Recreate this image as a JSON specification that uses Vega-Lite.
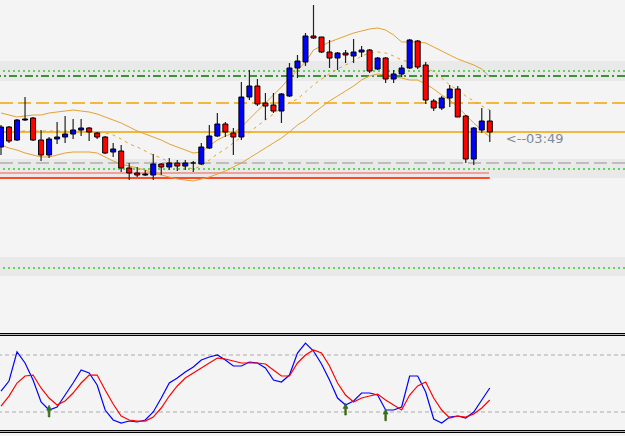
{
  "$schema": "https://vega.github.io/schema/vega-lite/v6.json",
  "background": "#f4f4f4",
  "padding": 0,
  "spacing": 0,
  "config": {"view": {"stroke": null}, "scale": {"continuousPadding": 0}},
  "datasets": {
    "bars": [
      {"i":0,"o":1.1184,"h":1.1206,"l":1.1176,"c":1.1204,"t":"up","bu":1.1218,"bm":1.1201,"bl":1.1186,"k":42.1,"d":26.3},
      {"i":1,"o":1.1204,"h":1.1205,"l":1.1188,"c":1.1190,"t":"down","bu":1.1216,"bm":1.1201,"bl":1.1183,"k":52.6,"d":36.8},
      {"i":2,"o":1.1191,"h":1.1212,"l":1.1190,"c":1.1211,"t":"up","bu":1.1214,"bm":1.1200,"bl":1.1181,"k":83.2,"d":50.5},
      {"i":3,"o":1.1212,"h":1.1234,"l":1.1210,"c":1.1211,"t":"doji","bu":1.1215,"bm":1.1200,"bl":1.1178,"k":71.6,"d":57.9},
      {"i":4,"o":1.1213,"h":1.1214,"l":1.1190,"c":1.1191,"t":"down","bu":1.1216,"bm":1.1200,"bl":1.1176,"k":53.7,"d":58.9},
      {"i":5,"o":1.1191,"h":1.1201,"l":1.1170,"c":1.1176,"t":"down","bu":1.1216,"bm":1.1200,"bl":1.1174,"k":30.5,"d":45.3},
      {"i":6,"o":1.1176,"h":1.1194,"l":1.1173,"c":1.1192,"t":"up","bu":1.1218,"bm":1.1200,"bl":1.1174,"k":22.1,"d":34.7},
      {"i":7,"o":1.1192,"h":1.1209,"l":1.1187,"c":1.1194,"t":"up","bu":1.1219,"bm":1.1200,"bl":1.1176,"k":25.3,"d":27.4},
      {"i":8,"o":1.1194,"h":1.1215,"l":1.1188,"c":1.1197,"t":"up","bu":1.1220,"bm":1.1200,"bl":1.1178,"k":37.9,"d":31.6},
      {"i":9,"o":1.1197,"h":1.1212,"l":1.1192,"c":1.1201,"t":"up","bu":1.1221,"bm":1.1200,"bl":1.1179,"k":50.5,"d":40},
      {"i":10,"o":1.1201,"h":1.1212,"l":1.1195,"c":1.1203,"t":"up","bu":1.1220,"bm":1.1200,"bl":1.1179,"k":64.2,"d":50.5},
      {"i":11,"o":1.1203,"h":1.1204,"l":1.1190,"c":1.1199,"t":"down","bu":1.1219,"bm":1.1199,"bl":1.1179,"k":61.1,"d":58.9},
      {"i":12,"o":1.1198,"h":1.1199,"l":1.1192,"c":1.1194,"t":"down","bu":1.1217,"bm":1.1199,"bl":1.1178,"k":48.4,"d":58.9},
      {"i":13,"o":1.1194,"h":1.1195,"l":1.1177,"c":1.1178,"t":"down","bu":1.1214,"bm":1.1198,"bl":1.1174,"k":22.1,"d":43.2},
      {"i":14,"o":1.1179,"h":1.1188,"l":1.1174,"c":1.1182,"t":"up","bu":1.1211,"bm":1.1196,"bl":1.1170,"k":11.6,"d":28.4},
      {"i":15,"o":1.1180,"h":1.1186,"l":1.1159,"c":1.1163,"t":"down","bu":1.1208,"bm":1.1192,"bl":1.1167,"k":8.4,"d":15.8},
      {"i":16,"o":1.1163,"h":1.1168,"l":1.1151,"c":1.1158,"t":"down","bu":1.1204,"bm":1.1187,"bl":1.1165,"k":10.5,"d":11.6},
      {"i":17,"o":1.1158,"h":1.1164,"l":1.1154,"c":1.1156,"t":"down","bu":1.1200,"bm":1.1184,"bl":1.1163,"k":9.5,"d":10.5},
      {"i":18,"o":1.1156,"h":1.1161,"l":1.1155,"c":1.1157,"t":"doji","bu":1.1197,"bm":1.1180,"bl":1.1161,"k":11.6,"d":10.5},
      {"i":19,"o":1.1156,"h":1.1177,"l":1.1151,"c":1.1167,"t":"up","bu":1.1194,"bm":1.1176,"bl":1.1158,"k":20,"d":14.7},
      {"i":20,"o":1.1167,"h":1.1168,"l":1.1156,"c":1.1164,"t":"down","bu":1.1191,"bm":1.1173,"bl":1.1156,"k":34.7,"d":24.2},
      {"i":21,"o":1.1164,"h":1.1173,"l":1.1161,"c":1.1168,"t":"up","bu":1.1187,"bm":1.1169,"bl":1.1154,"k":50.5,"d":36.8},
      {"i":22,"o":1.1168,"h":1.1171,"l":1.1160,"c":1.1165,"t":"down","bu":1.1184,"bm":1.1166,"bl":1.1152,"k":55.8,"d":47.4},
      {"i":23,"o":1.1165,"h":1.1171,"l":1.1161,"c":1.1168,"t":"up","bu":1.1181,"bm":1.1164,"bl":1.1151,"k":62.1,"d":55.8},
      {"i":24,"o":1.1168,"h":1.1170,"l":1.1159,"c":1.1168,"t":"doji","bu":1.1178,"bm":1.1162,"bl":1.1150,"k":67.4,"d":61.1},
      {"i":25,"o":1.1167,"h":1.1188,"l":1.1166,"c":1.1184,"t":"up","bu":1.1179,"bm":1.1165,"bl":1.1152,"k":74.7,"d":66.3},
      {"i":26,"o":1.1183,"h":1.1206,"l":1.1182,"c":1.1195,"t":"up","bu":1.1185,"bm":1.1171,"bl":1.1154,"k":77.9,"d":71.6},
      {"i":27,"o":1.1195,"h":1.1218,"l":1.1194,"c":1.1207,"t":"up","bu":1.1191,"bm":1.1177,"bl":1.1157,"k":80,"d":76.8},
      {"i":28,"o":1.1207,"h":1.1209,"l":1.1194,"c":1.1199,"t":"down","bu":1.1195,"bm":1.1182,"bl":1.1160,"k":74.7,"d":75.8},
      {"i":29,"o":1.1198,"h":1.1203,"l":1.1176,"c":1.1194,"t":"down","bu":1.1198,"bm":1.1188,"bl":1.1164,"k":68.4,"d":73.7},
      {"i":30,"o":1.1194,"h":1.1249,"l":1.1191,"c":1.1234,"t":"up","bu":1.1204,"bm":1.1194,"bl":1.1168,"k":68.4,"d":71.6},
      {"i":31,"o":1.1234,"h":1.1261,"l":1.1231,"c":1.1245,"t":"up","bu":1.1212,"bm":1.1199,"bl":1.1173,"k":72.6,"d":71.6},
      {"i":32,"o":1.1245,"h":1.1252,"l":1.1225,"c":1.1227,"t":"down","bu":1.1220,"bm":1.1205,"bl":1.1178,"k":71.6,"d":71.6},
      {"i":33,"o":1.1228,"h":1.1238,"l":1.1211,"c":1.1225,"t":"down","bu":1.1228,"bm":1.1211,"bl":1.1183,"k":66.3,"d":70.5},
      {"i":34,"o":1.1226,"h":1.1238,"l":1.1218,"c":1.1220,"t":"down","bu":1.1236,"bm":1.1217,"bl":1.1188,"k":53.7,"d":64.2},
      {"i":35,"o":1.1220,"h":1.1238,"l":1.1208,"c":1.1237,"t":"up","bu":1.1244,"bm":1.1223,"bl":1.1193,"k":51.6,"d":57.9},
      {"i":36,"o":1.1235,"h":1.1268,"l":1.1234,"c":1.1263,"t":"up","bu":1.1253,"bm":1.1228,"bl":1.1199,"k":58.9,"d":57.9},
      {"i":37,"o":1.1263,"h":1.1276,"l":1.1253,"c":1.1270,"t":"up","bu":1.1261,"bm":1.1232,"bl":1.1206,"k":82.1,"d":71.6},
      {"i":38,"o":1.1269,"h":1.1298,"l":1.1265,"c":1.1295,"t":"up","bu":1.1269,"bm":1.1239,"bl":1.1211,"k":92.6,"d":80},
      {"i":39,"o":1.1295,"h":1.1326,"l":1.1292,"c":1.1293,"t":"down","bu":1.1281,"bm":1.1246,"bl":1.1218,"k":84.2,"d":85.3},
      {"i":40,"o":1.1294,"h":1.1294,"l":1.1278,"c":1.1279,"t":"down","bu":1.1285,"bm":1.1252,"bl":1.1224,"k":70.5,"d":82.1},
      {"i":41,"o":1.1279,"h":1.1291,"l":1.1263,"c":1.1273,"t":"down","bu":1.1289,"bm":1.1257,"bl":1.1230,"k":53.7,"d":68.4},
      {"i":42,"o":1.1273,"h":1.1279,"l":1.1261,"c":1.1278,"t":"up","bu":1.1292,"bm":1.1262,"bl":1.1235,"k":34.7,"d":50.5},
      {"i":43,"o":1.1278,"h":1.1281,"l":1.1268,"c":1.1276,"t":"down","bu":1.1295,"bm":1.1266,"bl":1.1240,"k":27.4,"d":37.9},
      {"i":44,"o":1.1275,"h":1.1292,"l":1.1268,"c":1.1279,"t":"up","bu":1.1298,"bm":1.1270,"bl":1.1245,"k":31.6,"d":30.5},
      {"i":45,"o":1.1279,"h":1.1285,"l":1.1274,"c":1.1281,"t":"up","bu":1.1300,"bm":1.1275,"bl":1.1251,"k":40,"d":34.7},
      {"i":46,"o":1.1281,"h":1.1282,"l":1.1258,"c":1.1260,"t":"down","bu":1.1302,"bm":1.1278,"bl":1.1255,"k":40,"d":36.8},
      {"i":47,"o":1.1262,"h":1.1274,"l":1.1261,"c":1.1273,"t":"up","bu":1.1303,"bm":1.1279,"bl":1.1257,"k":37.9,"d":38.9},
      {"i":48,"o":1.1273,"h":1.1274,"l":1.1248,"c":1.1252,"t":"down","bu":1.1301,"bm":1.1278,"bl":1.1256,"k":22.1,"d":32.6},
      {"i":49,"o":1.1252,"h":1.1261,"l":1.1248,"c":1.1257,"t":"up","bu":1.1296,"bm":1.1275,"bl":1.1254,"k":22.1,"d":27.4},
      {"i":50,"o":1.1257,"h":1.1266,"l":1.1254,"c":1.1263,"t":"up","bu":1.1289,"bm":1.1271,"bl":1.1253,"k":25.3,"d":22.1},
      {"i":51,"o":1.1263,"h":1.1292,"l":1.1262,"c":1.1291,"t":"up","bu":1.1289,"bm":1.1269,"bl":1.1251,"k":57.9,"d":37.9},
      {"i":52,"o":1.1290,"h":1.1291,"l":1.1262,"c":1.1264,"t":"down","bu":1.1289,"bm":1.1267,"bl":1.1251,"k":57.9,"d":47.4},
      {"i":53,"o":1.1266,"h":1.1269,"l":1.1227,"c":1.1231,"t":"down","bu":1.1288,"bm":1.1264,"bl":1.1247,"k":41.1,"d":51.6},
      {"i":54,"o":1.1230,"h":1.1232,"l":1.1220,"c":1.1223,"t":"down","bu":1.1284,"bm":1.1259,"bl":1.1242,"k":12.6,"d":34.7},
      {"i":55,"o":1.1223,"h":1.1235,"l":1.1221,"c":1.1233,"t":"up","bu":1.1280,"bm":1.1253,"bl":1.1236,"k":8.4,"d":22.1},
      {"i":56,"o":1.1233,"h":1.1246,"l":1.1224,"c":1.1242,"t":"up","bu":1.1276,"bm":1.1246,"bl":1.1231,"k":14.7,"d":13.7},
      {"i":57,"o":1.1242,"h":1.1245,"l":1.1214,"c":1.1214,"t":"down","bu":1.1272,"bm":1.1241,"bl":1.1224,"k":15.8,"d":15.8},
      {"i":58,"o":1.1215,"h":1.1216,"l":1.1168,"c":1.1172,"t":"down","bu":1.1269,"bm":1.1235,"bl":1.1216,"k":13.7,"d":14.7},
      {"i":59,"o":1.1172,"h":1.1204,"l":1.1166,"c":1.1203,"t":"up","bu":1.1266,"bm":1.1230,"bl":1.1208,"k":20,"d":17.9},
      {"i":60,"o":1.1201,"h":1.1223,"l":1.1198,"c":1.1210,"t":"up","bu":1.1262,"bm":1.1225,"bl":1.1201,"k":32.6,"d":24.2},
      {"i":61,"o":1.1210,"h":1.1221,"l":1.1189,"c":1.1199,"t":"down","bu":1.1254,"bm":1.1221,"bl":1.1194,"k":45.3,"d":32.6}
    ],
    "zones": [
      {"p1":1.1270,"p2":1.1250},
      {"p1":1.1172,"p2":1.1153},
      {"p1":1.1074,"p2":1.1055}
    ],
    "levels": [
      {"p":1.1260,"kind":"gdot"},
      {"p":1.1162,"kind":"gdot"},
      {"p":1.1063,"kind":"gdot"},
      {"p":1.1255,"kind":"dashdot"},
      {"p":1.1228,"kind":"odash"},
      {"p":1.1199,"kind":"osolid"},
      {"p":1.1168,"kind":"gray"},
      {"p":1.1158,"kind":"salmon"},
      {"p":1.1153,"kind":"red"}
    ],
    "stlevels": [{"v":80},{"v":20}],
    "borders": [{"v":102.6},{"v":100.5},{"v":0.5},{"v":-1.6}],
    "arrows": [{"i":6,"v":21},{"i":43,"v":23},{"i":48,"v":17}],
    "label": [{"i":63,"p":1.1192,"txt":"<--03:49"}]
  },
  "vconcat": [
    {
      "width": 625,
      "height": 331,
      "layer": [
        {
          "data": {"name": "zones"},
          "mark": {"type": "rect", "color": "#e9e9e9", "clip": true},
          "encoding": {
            "x": {"datum": -0.125, "type": "quantitative", "scale": {"domain": [-0.125, 77.875], "nice": false, "zero": false, "padding": 0}, "axis": null},
            "x2": {"datum": 77.875},
            "y": {"field": "p1", "type": "quantitative", "scale": {"domain": [1.1000, 1.1331], "nice": false, "zero": false}, "axis": null},
            "y2": {"field": "p2"}
          }
        },
        {
          "data": {"name": "levels"},
          "transform": [{"filter": "datum.kind == 'gdot'"}],
          "mark": {"type": "rule", "color": "#5cd65c", "strokeWidth": 2, "strokeDash": [2, 3], "clip": true},
          "encoding": {
            "y": {"field": "p", "type": "quantitative", "scale": {"domain": [1.1000, 1.1331], "nice": false, "zero": false}, "axis": null}
          }
        },
        {
          "data": {"name": "levels"},
          "transform": [{"filter": "datum.kind == 'dashdot'"}],
          "mark": {"type": "rule", "color": "#007a00", "strokeWidth": 1.5, "strokeDash": [8, 3, 2, 3], "clip": true},
          "encoding": {
            "y": {"field": "p", "type": "quantitative", "scale": {"domain": [1.1000, 1.1331], "nice": false, "zero": false}, "axis": null}
          }
        },
        {
          "data": {"name": "levels"},
          "transform": [{"filter": "datum.kind == 'odash'"}],
          "mark": {"type": "rule", "color": "#f2a400", "strokeWidth": 1.5, "strokeDash": [13, 5], "clip": true},
          "encoding": {
            "y": {"field": "p", "type": "quantitative", "scale": {"domain": [1.1000, 1.1331], "nice": false, "zero": false}, "axis": null}
          }
        },
        {
          "data": {"name": "levels"},
          "transform": [{"filter": "datum.kind == 'osolid'"}],
          "mark": {"type": "rule", "color": "#f2a400", "strokeWidth": 1.5, "clip": true},
          "encoding": {
            "y": {"field": "p", "type": "quantitative", "scale": {"domain": [1.1000, 1.1331], "nice": false, "zero": false}, "axis": null}
          }
        },
        {
          "data": {"name": "levels"},
          "transform": [{"filter": "datum.kind == 'gray'"}],
          "mark": {"type": "rule", "color": "#bdbdbd", "strokeWidth": 2, "strokeDash": [13, 5], "clip": true},
          "encoding": {
            "y": {"field": "p", "type": "quantitative", "scale": {"domain": [1.1000, 1.1331], "nice": false, "zero": false}, "axis": null}
          }
        },
        {
          "data": {"name": "levels"},
          "transform": [{"filter": "datum.kind == 'salmon'"}],
          "mark": {"type": "rule", "color": "#f08a80", "strokeWidth": 1.5, "clip": true},
          "encoding": {
            "x": {"datum": -0.125, "type": "quantitative", "scale": {"domain": [-0.125, 77.875], "nice": false, "zero": false, "padding": 0}, "axis": null},
            "x2": {"datum": 60.9},
            "y": {"field": "p", "type": "quantitative", "scale": {"domain": [1.1000, 1.1331], "nice": false, "zero": false}, "axis": null}
          }
        },
        {
          "data": {"name": "levels"},
          "transform": [{"filter": "datum.kind == 'red'"}],
          "mark": {"type": "rule", "color": "#ff4a2a", "strokeWidth": 2, "clip": true},
          "encoding": {
            "x": {"datum": -0.125, "type": "quantitative", "scale": {"domain": [-0.125, 77.875], "nice": false, "zero": false, "padding": 0}, "axis": null},
            "x2": {"datum": 61},
            "y": {"field": "p", "type": "quantitative", "scale": {"domain": [1.1000, 1.1331], "nice": false, "zero": false}, "axis": null}
          }
        },
        {
          "data": {"name": "bars"},
          "mark": {"type": "line", "color": "#e3a232", "strokeWidth": 1, "clip": true},
          "encoding": {
            "x": {"field": "i", "type": "quantitative", "scale": {"domain": [-0.125, 77.875], "nice": false, "zero": false, "padding": 0}, "axis": null},
            "y": {"field": "bu", "type": "quantitative", "scale": {"domain": [1.1000, 1.1331], "nice": false, "zero": false}, "axis": null}
          }
        },
        {
          "data": {"name": "bars"},
          "mark": {"type": "line", "color": "#e3a232", "strokeWidth": 1, "strokeDash": [3, 4], "clip": true},
          "encoding": {
            "x": {"field": "i", "type": "quantitative", "scale": {"domain": [-0.125, 77.875], "nice": false, "zero": false, "padding": 0}, "axis": null},
            "y": {"field": "bm", "type": "quantitative", "scale": {"domain": [1.1000, 1.1331], "nice": false, "zero": false}, "axis": null}
          }
        },
        {
          "data": {"name": "bars"},
          "mark": {"type": "line", "color": "#e3a232", "strokeWidth": 1, "clip": true},
          "encoding": {
            "x": {"field": "i", "type": "quantitative", "scale": {"domain": [-0.125, 77.875], "nice": false, "zero": false, "padding": 0}, "axis": null},
            "y": {"field": "bl", "type": "quantitative", "scale": {"domain": [1.1000, 1.1331], "nice": false, "zero": false}, "axis": null}
          }
        },
        {
          "data": {"name": "bars"},
          "mark": {"type": "rule", "color": "#222222", "strokeWidth": 1.2, "clip": true},
          "encoding": {
            "x": {"field": "i", "type": "quantitative", "scale": {"domain": [-0.125, 77.875], "nice": false, "zero": false, "padding": 0}, "axis": null},
            "y": {"field": "h", "type": "quantitative", "scale": {"domain": [1.1000, 1.1331], "nice": false, "zero": false}, "axis": null},
            "y2": {"field": "l"}
          }
        },
        {
          "data": {"name": "bars"},
          "mark": {"type": "bar", "size": 5, "stroke": "#000000", "strokeWidth": 1, "clip": true},
          "encoding": {
            "x": {"field": "i", "type": "quantitative", "scale": {"domain": [-0.125, 77.875], "nice": false, "zero": false, "padding": 0}, "axis": null},
            "y": {"field": "o", "type": "quantitative", "scale": {"domain": [1.1000, 1.1331], "nice": false, "zero": false}, "axis": null},
            "y2": {"field": "c"},
            "color": {"field": "t", "type": "nominal", "scale": {"domain": ["up", "down", "doji"], "range": ["#0000ff", "#ff0000", "#000000"]}, "legend": null}
          }
        },
        {
          "data": {"name": "label"},
          "mark": {"type": "text", "align": "left", "baseline": "middle", "font": "DejaVu Sans", "fontSize": 13, "color": "#7d8a99"},
          "encoding": {
            "x": {"field": "i", "type": "quantitative", "scale": {"domain": [-0.125, 77.875], "nice": false, "zero": false, "padding": 0}, "axis": null},
            "y": {"field": "p", "type": "quantitative", "scale": {"domain": [1.1000, 1.1331], "nice": false, "zero": false}, "axis": null},
            "text": {"field": "txt"}
          }
        }
      ]
    },
    {
      "width": 625,
      "height": 105,
      "layer": [
        {
          "data": {"name": "stlevels"},
          "mark": {"type": "rule", "color": "#ababab", "strokeWidth": 1, "strokeDash": [4, 3], "clip": true},
          "encoding": {
            "y": {"field": "v", "type": "quantitative", "scale": {"domain": [-5.26, 105.26], "nice": false, "zero": false}, "axis": null}
          }
        },
        {
          "data": {"name": "borders"},
          "mark": {"type": "rule", "color": "#000000", "strokeWidth": 1.2, "clip": true},
          "encoding": {
            "y": {"field": "v", "type": "quantitative", "scale": {"domain": [-5.26, 105.26], "nice": false, "zero": false}, "axis": null}
          }
        },
        {
          "data": {"name": "bars"},
          "mark": {"type": "line", "color": "#0000ff", "strokeWidth": 1.2, "clip": true},
          "encoding": {
            "x": {"field": "i", "type": "quantitative", "scale": {"domain": [-0.125, 77.875], "nice": false, "zero": false, "padding": 0}, "axis": null},
            "y": {"field": "k", "type": "quantitative", "scale": {"domain": [-5.26, 105.26], "nice": false, "zero": false}, "axis": null}
          }
        },
        {
          "data": {"name": "bars"},
          "mark": {"type": "line", "color": "#ff0000", "strokeWidth": 1.2, "clip": true},
          "encoding": {
            "x": {"field": "i", "type": "quantitative", "scale": {"domain": [-0.125, 77.875], "nice": false, "zero": false, "padding": 0}, "axis": null},
            "y": {"field": "d", "type": "quantitative", "scale": {"domain": [-5.26, 105.26], "nice": false, "zero": false}, "axis": null}
          }
        },
        {
          "data": {"name": "arrows"},
          "mark": {"type": "point", "shape": "arrow", "filled": true, "size": 140, "color": "#1d7f1d", "stroke": "#3d5a10", "strokeWidth": 0.6, "opacity": 1},
          "encoding": {
            "x": {"field": "i", "type": "quantitative", "scale": {"domain": [-0.125, 77.875], "nice": false, "zero": false, "padding": 0}, "axis": null},
            "y": {"field": "v", "type": "quantitative", "scale": {"domain": [-5.26, 105.26], "nice": false, "zero": false}, "axis": null}
          }
        }
      ]
    }
  ]
}
